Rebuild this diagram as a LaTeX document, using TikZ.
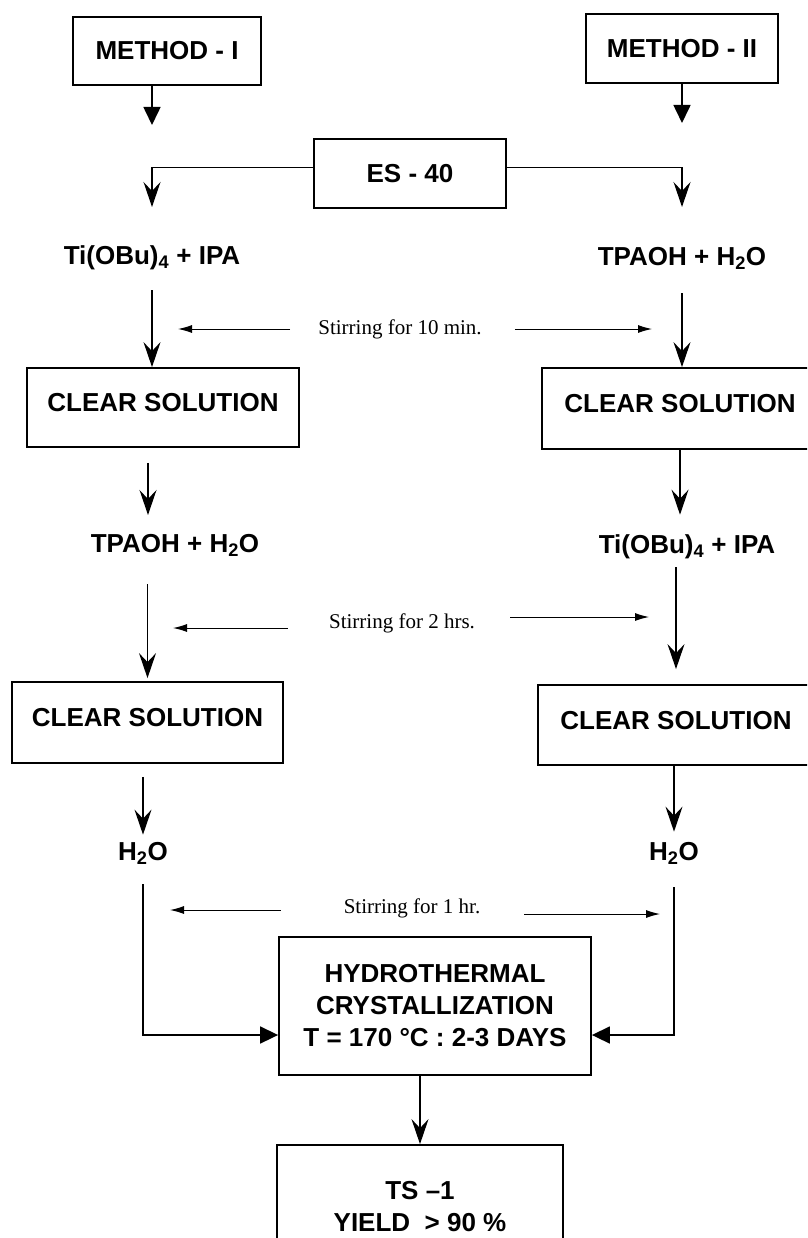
\documentclass[tikz,border=0pt]{standalone}
\usepackage{fontspec}
\setmainfont{Liberation Sans}
\newfontfamily\stirfont{Liberation Serif}
\usetikzlibrary{arrows.meta,positioning}

\begin{document}
\begin{tikzpicture}[x=1pt, y=-1pt,
    every node/.style={font=\fontsize{26}{32}\selectfont\bfseries, text=black, inner sep=0pt},
    box/.style={draw, line width=1.8pt, align=center},
    solbox/.style={box, text depth=10pt},
    flow/.style={line width=1.3pt, -{Stealth[length=25pt, width=17pt, inset=9pt]}},
    fat/.style={line width=1.6pt, -{Triangle[length=18pt, width=17pt]}},
    stir/.style={line width=1pt, -{Latex[length=14pt, width=8pt]}},
    stirtext/.style={font=\stirfont\fontsize{21}{25}\selectfont}]
    \useasboundingbox (0,0) rectangle (807,1238);
    \clip (0,0) rectangle (807,1238);

    % Methods and ES - 40
    \node[box, minimum width=188pt, minimum height=68pt] (m1) at (167,51) {METHOD - I};
    \node[box, minimum width=192pt, minimum height=69pt] (m2) at (682,48.5) {METHOD - II};
    \node[box, minimum width=192pt, minimum height=69pt] (es) at (410,173.5) {ES - 40};
    \coordinate (m1end) at (152,125);
    \coordinate (m2end) at (682,123);
    \coordinate (esl) at (152,207);
    \coordinate (esr) at (682,207);
    \draw[fat] (m1end |- m1.south) -- (m1end);
    \draw[fat] (m2.south) -- (m2end);
    \draw[flow] ([yshift=6pt]es.west) -| (esl);
    \draw[flow] ([yshift=6pt]es.east) -| (esr);

    % Step 1
    \node (ti1) at (152,258) {Ti(OBu)\textsubscript{4} + IPA};
    \node (tp1) at (682,258) {TPAOH + H\textsubscript{2}O};
    \node[stirtext] (s1) at (400,329) {Stirring for 10 min.};
    \coordinate (s1l) at (178,329);
    \coordinate (s1r) at (652,329);
    \draw[stir, shorten <=28pt] (s1.west) -- (s1l);
    \draw[stir, shorten <=33pt] (s1.east) -- (s1r);
    \node[solbox, minimum width=272pt, minimum height=79pt] (cs1) at (163,407.5) {CLEAR SOLUTION};
    \node[solbox, minimum width=276pt, minimum height=81pt] (cs2) at (680,408.5) {CLEAR SOLUTION};
    \draw[flow, shorten <=20pt] (ti1.south) -- (ti1.south |- cs1.north);
    \draw[flow, shorten <=24pt] (tp1.south) -- (tp1.south |- cs2.north);

    % Step 2
    \node (tp2) at (175,545) {TPAOH + H\textsubscript{2}O};
    \node (ti2) at (687,547) {Ti(OBu)\textsubscript{4} + IPA};
    \coordinate (tp2in) at (148,515);
    \draw[flow, shorten <=15pt] (tp2in |- cs1.south) -- (tp2in);
    \draw[flow, shorten >=20pt] (cs2.south) -- (cs2.south |- ti2.north);
    \node[stirtext] (s2) at (402,623) {Stirring for 2 hrs.};
    \coordinate (s2l) at (173,628);
    \coordinate (s2r) at (649,617);
    \draw[stir, shorten <=41pt] ([yshift=-5pt]s2.west) -- (s2l);
    \draw[stir, shorten <=35pt] ([yshift=6pt]s2.east) -- (s2r);
    \node[solbox, minimum width=271pt, minimum height=81pt] (cs3) at (147.5,722.5) {CLEAR SOLUTION};
    \node[solbox, minimum width=276pt, minimum height=80pt] (cs4) at (676,725) {CLEAR SOLUTION};
    \draw[flow, shorten <=28pt, shorten >=3pt] (cs3.north |- tp2.south) -- (cs3.north);
    \draw[flow, shorten <=8pt, shorten >=15pt] (cs4.north |- ti2.south) -- (cs4.north);

    % Step 3
    \node (w1) at (143,853) {H\textsubscript{2}O};
    \node (w2) at (674,853) {H\textsubscript{2}O};
    \draw[flow, shorten <=13pt, shorten >=7pt] (w1.north |- cs3.south) -- (w1.north);
    \draw[flow, shorten >=10pt] (w2.north |- cs4.south) -- (w2.north);
    \node[stirtext] (s3) at (412,908) {Stirring for 1 hr.};
    \coordinate (s3l) at (170,910);
    \coordinate (s3r) at (660,914);
    \draw[stir, shorten <=63pt] ([yshift=-2pt]s3.west) -- (s3l);
    \draw[stir, shorten <=44pt] ([yshift=-6pt]s3.east) -- (s3r);

    % Hydrothermal crystallization
    \node[box, minimum width=312pt, minimum height=138pt] (hc) at (435,1006)
        {HYDROTHERMAL\\CRYSTALLIZATION\\T = 170 °C : 2-3 DAYS};
    \draw[fat, shorten <=20pt] (w1.south) |- ([yshift=-29pt]hc.west);
    \draw[fat, shorten <=23pt] (w2.south) |- ([yshift=-29pt]hc.east);

    % Product
    \node[box, minimum width=286pt, minimum height=124pt] (ts) at (420,1207) {TS –1\\YIELD\ \ > 90 \%};
    \draw[flow] (ts.north |- hc.south) -- (ts.north);
\end{tikzpicture}
\end{document}
